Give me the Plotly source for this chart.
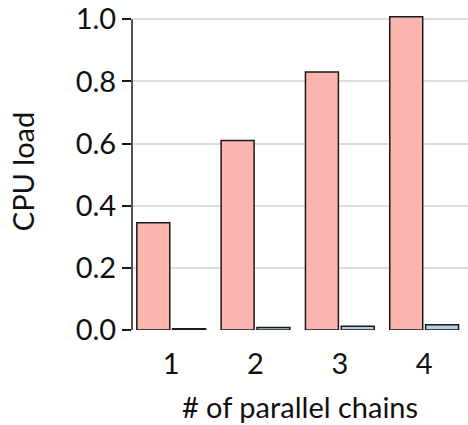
import plotly.graph_objects as go

chains = [1, 2, 3, 4]
load_a = [0.345, 0.610, 0.830, 1.008]
load_b = [0.004, 0.008, 0.012, 0.017]
y_ticks = [0.0, 0.2, 0.4, 0.6, 0.8, 1.0]
y_labels = ["0.0", "0.2", "0.4", "0.6", "0.8", "1.0"]

FONT = "Lato"
SIZE = 29

fig = go.Figure()
fig.add_trace(go.Bar(x=chains, y=load_a, marker=dict(color="#fbb4ae", line=dict(color="#1a1a1a", width=1.5))))
fig.add_trace(go.Bar(x=chains, y=load_b, marker=dict(color="#b3cde3", line=dict(color="#1a1a1a", width=1.5))))

# y axis spine drawn only over the tick range
fig.add_shape(type="line", xref="paper", yref="y", x0=0, x1=0, y0=0, y1=1.0,
              line=dict(color="#1a1a1a", width=1.5), layer="above")

fig.update_layout(
    width=468, height=425,
    margin=dict(l=132, r=0, t=13, b=95),
    paper_bgcolor="white", plot_bgcolor="white",
    barmode="group", bargap=0.15, bargroupgap=0.08,
    showlegend=False,
    font=dict(family=FONT, size=SIZE, color="#111111"),
    xaxis=dict(
        range=[0.535, 4.52], tickvals=chains, ticktext=[str(c) for c in chains],
        showgrid=False, zeroline=False, showline=False,
        ticks="outside", ticklen=8, tickcolor="rgba(0,0,0,0)",
        tickfont=dict(size=SIZE), title=dict(text="# of parallel chains", font=dict(size=SIZE), standoff=18),
    ),
    yaxis=dict(
        range=[0, 1.02], tickvals=y_ticks, ticktext=y_labels,
        showgrid=True, gridcolor="#dcdcdc", gridwidth=1.5, zeroline=False, showline=False,
        ticks="outside", ticklen=9, tickwidth=1.5, tickcolor="#1a1a1a",
        tickfont=dict(size=SIZE), title=dict(text="CPU load", font=dict(size=SIZE), standoff=32),
    ),
)

fig.write_html("out.html")
